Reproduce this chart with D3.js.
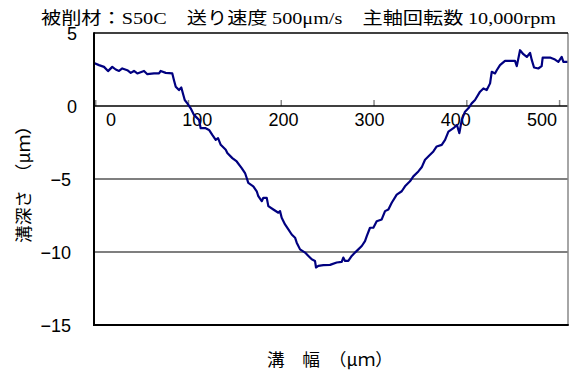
<!DOCTYPE html>
<html>
<head>
<meta charset="utf-8">
<script src="https://cdn.jsdelivr.net/npm/d3@7"></script>
<style>
  body { margin: 0; background: #fff; }
  svg { display: block; }
  .num { font-family: "Liberation Sans Narrow", "Liberation Sans", Arial, sans-serif; font-size: 18px; fill: #000; }
  .jp { font-family: "Noto Sans CJK JP", sans-serif; }
  .serif { font-family: "Liberation Serif", "Times New Roman", serif; }
</style>
</head>
<body>
<svg id="chart"></svg>
<script>
// groove profile
let widthUm = [-1.3, 4.1, 9.5, 13.8, 18.4, 22.1, 25.7, 29.2, 34.6, 38.3, 41.8, 45.4, 52.6, 56.2, 63.4, 68.8,
  70.6, 76, 83.1, 84.9, 86.8, 90.3, 92.8, 95, 96.5, 99.3, 102.9, 106.5, 111.9, 113.7, 119.1, 122.7,
  126.2, 129.9, 132.4, 135.3, 140.7, 142.4, 147.8, 152.5, 157.9, 161.5, 163.3, 165, 170.4, 174.1,
  175.8, 179.5, 181.2, 184.9, 186.6, 192, 197.4, 199.2, 201, 204.6, 208.2, 211.8, 215.4, 217.2,
  220.8, 226.2, 229.8, 233.4, 236.9, 238, 240.5, 245.9, 253.1, 260.3, 265.7, 267.4, 269.3, 272.8,
  276.5, 280, 283.6, 287.3, 290.8, 292.7, 296.2, 299.8, 303.4, 308.8, 312.4, 316, 319.6, 325,
  330.4, 333.9, 339.3, 342.9, 348.3, 351.9, 355.5, 360.9, 364.5, 368.1, 373.5, 377.1, 380.7, 386.1,
  389.9, 392.5, 395.1, 398.6, 402.2, 405.8, 409.4, 414.8, 418.4, 422, 425.6, 427.4, 430.9, 432.8,
  436.3, 441.7, 452.5, 454.4, 457.9, 461.5, 465.2, 468.7, 470.6, 473, 477.6, 481.2, 482.3, 490.2,
  495.6, 499.2, 502.8, 504.6, 509.6]
let depthUm = [2.95, 2.8, 2.68, 2.39, 2.68, 2.5, 2.4, 2.57, 2.45, 2.27, 2.4, 2.23, 2.4, 2.18, 2.23, 2.23,
  2.4, 2.27, 2.23, 1.77, 1.32, 1.09, 1.27, 0.75, 0.41, 0.18, -0.16, -0.61, -0.95, -1.52, -1.52, -1.64,
  -1.98, -2.32, -2.2, -2.66, -3.0, -3.22, -3.57, -3.8, -4.25, -4.59, -4.93, -5.27, -5.5, -5.84,
  -6.18, -6.52, -6.29, -6.29, -6.86, -7.09, -7.31, -7.2, -7.66, -8.11, -8.45, -8.8, -9.02, -9.36,
  -9.82, -10.04, -10.27, -10.5, -10.61, -11.06, -10.95, -10.9, -10.88, -10.72, -10.68, -10.38, -10.61, -10.61,
  -10.27, -10.04, -9.82, -9.59, -9.25, -8.91, -8.34, -8.34, -7.89, -7.77, -7.2, -7.09, -6.63, -6.07,
  -5.84, -5.5, -5.16, -4.82, -4.48, -4.2, -3.68, -3.34, -3.11, -2.77, -2.66, -2.32, -1.75, -1.52,
  -1.3, -1.86, -0.95, -0.39, -0.16, 0.18, 0.41, 0.98, 1.2, 1.09, 1.55, 2.34, 2.23, 2.45,
  2.8, 3.09, 3.09, 2.73, 3.82, 3.55, 3.36, 3.64, 3.14, 2.64, 2.57, 2.73, 3.32, 3.32,
  3.18, 3.02, 3.36, 3.02, 3.02]

let xTicks = [0, 100, 200, 300, 400, 500]
let yTicks = [5, 0, -5, -10, -15]
let gridVals = [-5, -10]

let values = widthUm.map((w, i) => [w, depthUm[i]])

// canvas
let width = 571
let height = 374
let plotLeft = 94, plotRight = 568, plotTop = 33, plotBottom = 325

let svg = d3.select('#chart').attr('width', width).attr('height', height)
svg.append('rect').attr('width', width).attr('height', height).attr('fill', '#fff')

let xScale = d3.scaleLinear().domain([-1.3, 509.6]).range([plotLeft, plotRight])
let yScale = d3.scaleLinear().domain([-15, 5]).range([plotBottom, plotTop])
// the tick labels sit a bit off their ticks in the original
let xLabelScale = d3.scaleLinear().domain([0, 500]).range([111, 542])

// grid lines at -5 and -10
svg.selectAll('.grid')
  .data(gridVals)
  .enter()
  .append('line')
  .attr('x1', plotLeft).attr('x2', plotRight)
  .attr('y1', d => yScale(d)).attr('y2', d => yScale(d))
  .attr('stroke', '#555').attr('stroke-width', 1.5)

// zero axis with small upward ticks
let xAxis = d3.axisTop(xScale).tickValues(xTicks).tickSize(6).tickFormat('')
let gx = svg.append('g')
  .attr('transform', `translate(0,${yScale(0)})`)
  .call(xAxis)
gx.select('.domain').remove()
gx.selectAll('line').attr('stroke', '#888').attr('stroke-width', 1.5)
svg.append('line')
  .attr('x1', plotLeft).attr('x2', plotRight)
  .attr('y1', yScale(0)).attr('y2', yScale(0))
  .attr('stroke', '#000').attr('stroke-width', 1.5)

svg.selectAll('.xlab')
  .data(xTicks)
  .enter()
  .append('text')
  .attr('class', 'num')
  .attr('x', d => xLabelScale(d))
  .attr('y', yScale(0) + 20)
  .attr('text-anchor', 'middle')
  .text(d => d)

// y axis labels
let yAxis = d3.axisLeft(yScale).tickValues(yTicks).tickSize(0).tickPadding(0)
let gy = svg.append('g')
  .attr('transform', `translate(77,0)`)
  .call(yAxis)
gy.select('.domain').remove()
gy.attr('font-size', null).attr('font-family', null)
gy.selectAll('text')
  .attr('class', 'num')
  .attr('dy', '0.36em')
  .attr('dx', d => d < 0 ? -6 : 0)

// profile line
let line = d3.line().x(d => xScale(d[0])).y(d => yScale(d[1]))
svg.append('path')
  .datum(values)
  .attr('d', line)
  .attr('fill', 'none')
  .attr('stroke', '#000080')
  .attr('stroke-width', 2.2)
  .attr('stroke-linejoin', 'round')

// frame
svg.append('line').attr('x1', plotRight).attr('x2', plotRight).attr('y1', plotTop).attr('y2', plotBottom)
  .attr('stroke', '#888').attr('stroke-width', 1.5)
svg.append('line').attr('x1', plotLeft).attr('x2', plotRight).attr('y1', plotTop).attr('y2', plotTop)
  .attr('stroke', '#000').attr('stroke-width', 1.5)
svg.append('line').attr('x1', plotLeft).attr('x2', plotRight + 0.75).attr('y1', plotBottom).attr('y2', plotBottom)
  .attr('stroke', '#000').attr('stroke-width', 2)
svg.append('line').attr('x1', plotLeft).attr('x2', plotLeft).attr('y1', plotTop - 0.75).attr('y2', plotBottom + 1)
  .attr('stroke', '#000').attr('stroke-width', 2)

// title
let title = svg.append('text')
  .attr('x', 41).attr('y', 24)
  .attr('font-size', 16.5)
  .attr('textLength', 515)
  .attr('lengthAdjust', 'spacingAndGlyphs')
let parts = [['被削材：', 'jp'], ['S50C', 'serif'], ['　送り速度 ', 'jp'], ['500μm/s', 'serif'],
  ['　主軸回転数 ', 'jp'], ['10,000rpm', 'serif']]
parts.forEach(p => title.append('tspan').attr('class', p[1]).text(p[0]))

// axis titles
svg.append('text')
  .attr('class', 'jp')
  .attr('x', 330).attr('y', 366)
  .attr('text-anchor', 'middle')
  .attr('font-size', 17)
  .attr('textLength', 126)
  .attr('lengthAdjust', 'spacingAndGlyphs')
  .text('溝　幅　（μｍ）')

svg.append('text')
  .attr('class', 'jp')
  .attr('transform', 'translate(30,180) rotate(-90)')
  .attr('text-anchor', 'middle')
  .attr('font-size', 17)
  .attr('textLength', 126)
  .attr('lengthAdjust', 'spacingAndGlyphs')
  .text('溝深さ　（μｍ）')
</script>
</body>
</html>
